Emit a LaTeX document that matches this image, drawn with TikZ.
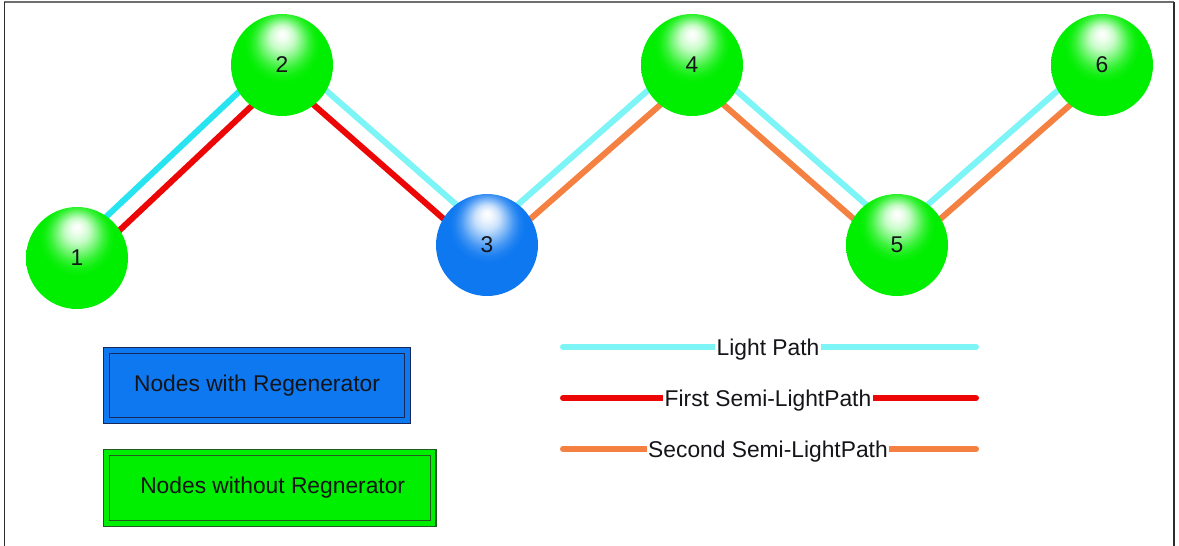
\documentclass[tikz,border=0pt]{standalone}
\usepackage{fontspec}
\setmainfont{Liberation Sans}
\usetikzlibrary{calc,backgrounds}
\definecolor{ballgreen}{RGB}{0,238,0}
\definecolor{ballblue}{RGB}{14,120,240}
\definecolor{lpcyan}{RGB}{125,244,246}
\definecolor{lpcyanB}{RGB}{40,228,240}
\definecolor{sred}{RGB}{236,6,6}
\definecolor{sorange}{RGB}{244,128,66}
\definecolor{navyline}{RGB}{25,40,90}
\definecolor{dkgreen}{RGB}{35,90,35}
\definecolor{txt}{RGB}{20,20,25}
\definecolor{framedark}{RGB}{45,45,45}
\definecolor{framegray}{RGB}{110,110,110}
\pgfdeclareradialshading{sphballgreen}{\pgfpoint{0bp}{15.5bp}}{color(0bp)=(white); color(2.5bp)=(white!94!ballgreen); color(6bp)=(white!78!ballgreen); color(9.5bp)=(white!50!ballgreen); color(13bp)=(white!22!ballgreen); color(16bp)=(white!6!ballgreen); color(18.5bp)=(ballgreen); color(50bp)=(ballgreen)}
\pgfdeclareradialshading{sphballblue}{\pgfpoint{0bp}{15.5bp}}{color(0bp)=(white); color(2.5bp)=(white!94!ballblue); color(6bp)=(white!78!ballblue); color(9.5bp)=(white!50!ballblue); color(13bp)=(white!22!ballblue); color(16bp)=(white!6!ballblue); color(18.5bp)=(ballblue); color(50bp)=(ballblue)}
\begin{document}
\begin{tikzpicture}[x=1pt,y=-1pt,
  bigfont/.style={font=\fontsize{22.8}{27}\selectfont},
  ball/.style={circle, minimum size=102pt, inner sep=0pt, shade, shading=sph#1, text=txt, bigfont},
  edgeline/.style={line width=6pt, line cap=butt},
  legbox/.style={rectangle, double distance=4.6pt, line width=1.2pt, inner sep=0pt, text=txt, bigfont},
  legline/.style={line width=6pt, line cap=round},
  legtext/.style={fill=white, inner xsep=1.5pt, inner ysep=1pt, anchor=base, text=txt, bigfont}]
\useasboundingbox (0,0) rectangle (1179,546);
% frame
\draw[framegray, line width=1.6pt] (4,2) -- (1174,2);
\draw[framedark, line width=1.6pt] (4.5,546) -- (4.5,2);
\draw[framedark, line width=1.6pt] (1174,2) -- (1174,546);
% nodes
\node[ball=ballgreen] (n1) at (77,258) {1};
\node[ball=ballgreen] (n2) at (282,65) {2};
\node[ball=ballblue]  (n3) at (487,245) {3};
\node[ball=ballgreen] (n4) at (692,65) {4};
\node[ball=ballgreen] (n5) at (897,245) {5};
\node[ball=ballgreen] (n6) at (1102,65) {6};
% edges
\begin{scope}[on background layer]
\draw[edgeline, lpcyanB] ($(n1.center)!10pt!90:(n2.center)$) -- ($(n2.center)!10pt!-90:(n1.center)$);
\draw[edgeline, sred]    ($(n1.center)!9pt!-90:(n2.center)$) -- ($(n2.center)!9pt!90:(n1.center)$);
\draw[edgeline, lpcyan]  ($(n2.center)!10pt!90:(n3.center)$) -- ($(n3.center)!10pt!-90:(n2.center)$);
\draw[edgeline, sred]    ($(n2.center)!9pt!-90:(n3.center)$) -- ($(n3.center)!9pt!90:(n2.center)$);
\draw[edgeline, lpcyan]  ($(n3.center)!10pt!90:(n4.center)$) -- ($(n4.center)!10pt!-90:(n3.center)$);
\draw[edgeline, sorange] ($(n3.center)!9pt!-90:(n4.center)$) -- ($(n4.center)!9pt!90:(n3.center)$);
\draw[edgeline, lpcyan]  ($(n4.center)!10pt!90:(n5.center)$) -- ($(n5.center)!10pt!-90:(n4.center)$);
\draw[edgeline, sorange] ($(n4.center)!9pt!-90:(n5.center)$) -- ($(n5.center)!9pt!90:(n4.center)$);
\draw[edgeline, lpcyan]  ($(n5.center)!10pt!90:(n6.center)$) -- ($(n6.center)!10pt!-90:(n5.center)$);
\draw[edgeline, sorange] ($(n5.center)!9pt!-90:(n6.center)$) -- ($(n6.center)!9pt!90:(n5.center)$);
\end{scope}
% legend boxes
\node[legbox, fill=ballblue, draw=navyline, double=ballblue, minimum width=301.5pt, minimum height=70pt] (kb) at (257,385.5) {Nodes with Regenerator};
\node[legbox, fill=ballgreen, draw=dkgreen, double=ballgreen, minimum width=326.7pt, minimum height=70.6pt] (kg) at (269.7,488) {\hspace{6pt}Nodes without Regnerator};
% legend lines
\coordinate (la1) at (563,347);
\coordinate (lb1) at (976,347);
\draw[legline, lpcyan] (la1) -- (lb1);
\node[legtext] (t1) at (768,355) {Light Path};
\coordinate (la2) at (563,398);
\coordinate (lb2) at (976,398);
\draw[legline, sred] (la2) -- (lb2);
\node[legtext] (t2) at (768,406) {First Semi-LightPath};
\coordinate (la3) at (563,449);
\coordinate (lb3) at (976,449);
\draw[legline, sorange] (la3) -- (lb3);
\node[legtext] (t3) at (768,457) {Second Semi-LightPath};
\end{tikzpicture}
\end{document}
